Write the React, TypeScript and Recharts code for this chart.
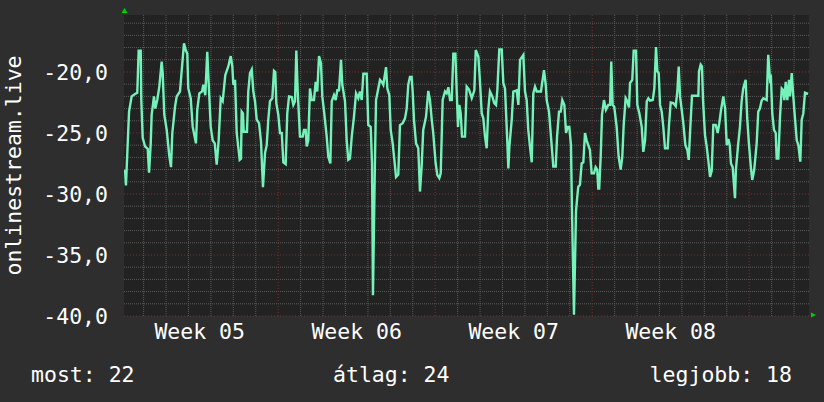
import React from 'react';
import { LineChart, Line, XAxis, YAxis, ReferenceLine, ReferenceArea, ReferenceDot } from 'recharts';

// time in hours since the left edge of the graph
const hours = [
  1.1, 2.1, 3.5, 5.4, 8.2, 11.8, 14.2, 15.7, 17.9, 18.5, 20.0, 22.5, 25.4, 26.8, 28.6, 29.6, 32.1, 33.5, 35.6, 37.8,
  40.3, 41.4, 43.1, 45.7, 48.5, 50.3, 51.7, 54.6, 56.4, 59.9, 64.2, 66.0, 67.7, 68.8, 71.4, 73.5, 77.0, 78.4, 80.6, 83.5,
  84.9, 87.0, 89.1, 90.6, 92.8, 94.9, 97.1, 99.2, 101.3, 103.5, 105.6, 108.4, 111.6, 114.2, 115.9, 117.0, 118.8, 120.6, 123.8, 125.2,
  125.9, 127.3, 128.1, 131.6, 133.0, 134.8, 136.7, 138.4, 140.2, 142.0, 144.5, 146.6, 148.7, 150.9, 152.7, 154.4, 156.2, 158.7, 160.5, 161.9,
  163.0, 165.1, 166.9, 168.8, 170.5, 173.0, 174.7, 176.6, 179.5, 181.2, 183.0, 184.4, 185.9, 188.3, 191.2, 192.6, 194.4, 195.5, 197.2, 199.0,
  200.8, 203.3, 205.1, 206.8, 208.7, 210.8, 212.2, 214.3, 216.9, 218.6, 220.8, 222.3, 224.7, 226.5, 228.3, 230.1, 232.2, 233.6, 236.5, 238.3,
  240.0, 241.8, 243.7, 246.1, 248.3, 250.7, 252.5, 254.4, 256.1, 259.7, 261.4, 264.0, 265.4, 266.4, 268.6, 269.7, 272.1, 273.9, 275.7, 277.5,
  280.4, 281.8, 283.9, 285.4, 287.5, 289.3, 291.1, 293.5, 295.3, 298.2, 300.7, 302.5, 304.2, 306.0, 307.8, 308.9, 310.3, 312.5, 314.9, 316.7,
  318.5, 320.2, 323.2, 325.6, 327.4, 329.3, 330.9, 333.5, 335.3, 337.4, 338.9, 341.0, 343.5, 345.3, 347.1, 348.9, 350.7, 352.4, 354.6, 356.1,
  357.4, 358.8, 360.3, 361.7, 364.9, 366.7, 369.2, 372.1, 374.9, 376.4, 379.2, 381.0, 382.8, 384.5, 386.3, 388.1, 389.8, 391.6, 394.1, 396.2,
  398.1, 399.5, 401.6, 404.2, 405.9, 407.7, 409.5, 411.3, 412.4, 414.9, 416.6, 420.2, 422.0, 423.8, 427.3, 429.1, 430.9, 432.6, 434.4, 436.3,
  438.0, 439.8, 441.6, 446.2, 449.4, 451.3, 452.3, 454.8, 456.9, 459.4, 462.0, 463.4, 465.5, 467.3, 469.0, 471.2, 473.0, 474.8, 476.5, 478.3,
  479.4, 481.5, 483.7, 484.7, 486.1, 487.9, 489.7, 491.5, 493.3, 495.1, 496.8, 498.6, 500.4, 502.9, 504.7, 506.4, 507.5, 508.5, 510.1, 511.5,
  513.6, 515.7, 518.2, 520.1, 521.4, 522.9, 524.6, 527.2, 529.3, 531.5, 533.2, 534.7, 536.8, 538.6, 540.4, 541.5, 543.9, 545.4, 547.9, 549.3,
  551.5, 554.0, 555.7, 557.6, 559.4, 561.1, 562.9, 565.8, 567.5, 569.3, 570.7, 572.2, 573.6, 575.4, 577.1, 578.9, 581.8, 583.2, 585.0, 587.8,
  590.4, 592.1, 593.6, 595.0, 596.8, 598.5, 600.7, 602.8, 604.3, 605.7, 607.8, 614.6, 615.3, 617.1, 618.5, 619.6, 621.7, 623.5, 625.2, 627.1,
  628.9, 630.6, 633.2, 635.3, 637.0, 638.9, 641.3, 643.2, 645.0, 646.7, 648.2, 649.5, 651.3, 653.8, 654.8, 657.3, 659.1, 660.9, 662.6, 665.2,
  666.9, 668.7, 670.9, 672.3, 674.4, 677.0, 678.7, 680.5, 682.3, 684.1, 687.7, 689.4, 691.3, 692.3, 693.7, 695.5, 697.4, 698.4, 700.2, 702.0,
  703.8, 705.5, 706.6, 708.1, 709.8, 711.6, 712.7, 714.5, 716.2, 718.0, 719.9, 721.6, 723.7, 725.2, 726.9, 728.7, 732.0,
];

const values = [
  -28.0, -29.3, -26.7, -23.25, -22.0, -21.8, -21.7, -18.25, -18.25, -22.3, -25.4, -26.1, -26.3, -28.25, -25.85, -23.5, -22.0, -23.0, -22.3, -21.2,
  -19.15, -20.1, -23.5, -24.75, -26.9, -27.8, -25.0, -22.85, -22.0, -21.6, -17.65, -18.2, -18.5, -21.35, -22.15, -24.5, -25.85, -23.1, -21.75, -21.6,
  -21.05, -21.9, -18.35, -20.9, -24.5, -25.6, -25.85, -27.6, -25.6, -22.15, -22.4, -20.25, -19.55, -18.7, -19.55, -21.05, -20.65, -25.0, -27.2, -27.1,
  -23.25, -23.4, -24.9, -24.9, -21.6, -20.1, -19.8, -21.6, -22.4, -23.9, -24.2, -25.7, -29.45, -26.65, -26.0, -23.9, -22.4, -22.15, -19.9, -20.0,
  -22.55, -23.5, -25.0, -25.0, -27.4, -27.55, -23.4, -22.0, -22.05, -22.7, -22.4, -18.25, -21.6, -25.3, -25.3, -24.75, -24.75, -26.1, -25.6, -21.35,
  -22.3, -22.3, -20.8, -21.6, -18.7, -19.3, -22.0, -23.4, -25.3, -26.95, -27.5, -22.4, -21.9, -22.3, -21.5, -21.5, -19.0, -21.05, -22.4, -25.6,
  -27.2, -27.1, -25.3, -23.65, -21.75, -22.15, -21.6, -22.3, -20.15, -20.15, -24.35, -24.5, -27.5, -38.3, -26.95, -22.3, -21.35, -20.65, -20.8, -21.05,
  -19.6, -21.35, -21.9, -24.75, -25.85, -27.2, -28.6, -28.4, -24.35, -24.2, -23.8, -23.0, -21.05, -20.4, -20.4, -21.6, -23.9, -25.85, -26.25, -29.8,
  -27.75, -24.75, -23.65, -21.55, -22.3, -23.9, -25.0, -27.5, -28.45, -28.7, -28.3, -22.3, -21.6, -21.75, -21.25, -22.3, -22.3, -18.5, -18.5, -21.75,
  -24.5, -22.7, -23.4, -25.3, -25.3, -21.2, -21.45, -22.15, -21.5, -18.2, -18.75, -20.9, -23.4, -23.8, -25.3, -26.25, -23.1, -21.6, -22.0, -22.55,
  -22.7, -21.5, -18.15, -18.15, -20.9, -21.35, -24.5, -27.9, -26.1, -23.9, -21.6, -21.5, -22.7, -19.0, -18.6, -21.6, -22.3, -24.75, -26.1, -27.4,
  -21.75, -21.2, -21.6, -21.6, -19.85, -21.05, -22.3, -23.25, -25.3, -27.75, -27.75, -25.3, -23.25, -23.25, -22.3, -22.7, -25.0, -24.5, -24.5, -26.0,
  -31.4, -39.9, -31.4, -30.5, -29.4, -29.25, -27.5, -27.4, -25.0, -25.6, -26.0, -26.4, -28.3, -28.3, -27.8, -28.0, -29.55, -29.55, -26.95, -23.5,
  -22.3, -23.1, -22.7, -22.7, -19.15, -22.7, -22.85, -24.5, -26.95, -28.0, -26.95, -24.35, -22.15, -22.4, -22.9, -20.9, -20.65, -18.25, -18.25, -22.7,
  -23.4, -24.5, -26.55, -25.6, -22.4, -22.15, -22.35, -22.3, -21.35, -17.95, -19.95, -20.1, -22.7, -23.25, -24.5, -26.25, -26.25, -24.35, -22.5, -22.55,
  -22.8, -21.6, -19.55, -22.0, -23.1, -24.2, -26.0, -26.4, -27.2, -25.0, -21.95, -21.95, -19.95, -19.4, -19.55, -22.3, -25.15, -26.1, -27.2, -28.6,
  -28.1, -24.35, -24.35, -25.0, -24.2, -23.1, -22.0, -23.0, -26.0, -25.5, -26.0, -27.5, -27.8, -30.35, -28.0, -25.85, -24.5, -22.4, -21.35, -20.65,
  -23.8, -25.85, -27.9, -28.85, -28.0, -25.85, -23.25, -23.0, -22.35, -22.15, -22.3, -18.6, -20.65, -20.5, -23.4, -24.75, -25.0, -27.1, -27.1, -23.65,
  -21.35, -21.5, -22.3, -20.8, -22.3, -20.65, -22.0, -20.1, -22.0, -23.8, -25.6, -26.0, -27.35, -23.9, -23.4, -21.7, -21.8,
];

const weekLabels = ['Week 05', 'Week 06', 'Week 07', 'Week 08'];
const weekLabelHours = [81, 249, 417, 585];
const weekStartHours = [165, 333, 501, 669];
const dayLineHours = [21, 45, 69, 93, 117, 141, 189, 213, 237, 261, 285, 309, 357, 381, 405, 429, 453, 477, 525, 549, 573, 597, 621, 645, 693, 717];
const yMajorTicks = [-40, -35, -30, -25, -20];
const yMinorLines = [-39, -38, -37, -36, -34, -33, -32, -31, -29, -28, -27, -26, -24, -23, -22, -21, -19, -18, -17, -16];

const statLabels = ['most', 'átlag', 'legjobb'];
const statValues = [22, 24, 18];

const X_MAX = 733;
const Y_MIN = -40;
const Y_MAX = -15.33;

const data = hours.map((h, i) => ({ h, v: values[i] }));

const FONT = "'DejaVu Sans Mono', monospace";
const FS = 21.5;
const TEXT = '#ffffff';
const LINE = '#74f2ba';
const MINOR = '#5a5a5a';
const MAJOR = '#7a3030';
const ARROW = '#00d000';

const UpArrow = (p: any) => (
  <polygon points={`${p.cx - 2.5},${p.cy - 2} ${p.cx + 3.5},${p.cy - 2} ${p.cx + 0.5},${p.cy - 7}`} fill={ARROW} />
);
const RightArrow = (p: any) => (
  <polygon points={`${p.cx + 2},${p.cy - 3.5} ${p.cx + 2},${p.cy + 1.5} ${p.cx + 7},${p.cy - 1}`} fill={ARROW} />
);

const YTitle = (props: any) => {
  const vb = props.viewBox || { x: 0, y: 15, width: 124, height: 301 };
  const cx = vb.x + 13;
  const cy = vb.y + vb.height / 2;
  return (
    <text x={cx} y={cy} transform={`rotate(-90 ${cx} ${cy})`} textAnchor="middle" dominantBaseline="central"
      fill={TEXT} fontFamily={FONT} fontSize={FS}>onlinestream.live</text>
  );
};

export default function App() {
  return (
    <div style={{ position: 'absolute', left: 0, top: 0, width: 824, height: 402, background: '#2e2e2e' }}>
      <LineChart width={824} height={402} data={data} margin={{ top: 15, right: 15, bottom: 0, left: 0 }}>
        <XAxis type="number" dataKey="h" domain={[0, X_MAX]} ticks={weekLabelHours} allowDataOverflow
          tickFormatter={(v: number) => weekLabels[weekLabelHours.indexOf(v)]}
          axisLine={false} tickLine={false} tickSize={0} tickMargin={8} height={86} interval={0}
          tick={{ fill: TEXT, fontFamily: FONT, fontSize: FS }} />
        <YAxis type="number" domain={[Y_MIN, Y_MAX]} ticks={yMajorTicks} allowDataOverflow width={124}
          tickFormatter={(v: number) => v.toFixed(1).replace('.', ',')}
          axisLine={false} tickLine={false} tickSize={0} tickMargin={16} interval={0}
          tick={{ fill: TEXT, fontFamily: FONT, fontSize: FS }}
          label={{ content: YTitle }} />
        <ReferenceArea x1={0} x2={X_MAX} y1={Y_MIN} y2={Y_MAX} fill="#222222" fillOpacity={1} stroke="none" />
        {yMinorLines.map((y) => (
          <ReferenceLine key={'hy' + y} y={y} stroke={MINOR} strokeDasharray="1 1" strokeWidth={1} />
        ))}
        {dayLineHours.map((x) => (
          <ReferenceLine key={'vx' + x} x={x} stroke={MINOR} strokeDasharray="1 1" strokeWidth={1} />
        ))}
        {yMajorTicks.map((y) => (
          <ReferenceLine key={'HY' + y} y={y} stroke={MAJOR} strokeDasharray="1 2" strokeWidth={1} />
        ))}
        {weekStartHours.map((x) => (
          <ReferenceLine key={'VX' + x} x={x} stroke={MAJOR} strokeDasharray="1 2" strokeWidth={1} />
        ))}
        <Line type="linear" dataKey="v" stroke={LINE} strokeWidth={2.4} dot={false} isAnimationActive={false} />
        <ReferenceDot x={0} y={Y_MAX} r={0} ifOverflow="visible" shape={UpArrow} />
        <ReferenceDot x={X_MAX} y={Y_MIN} r={0} ifOverflow="visible" shape={RightArrow} />
      </LineChart>
      <svg width={824} height={402} style={{ position: 'absolute', left: 0, top: 0, pointerEvents: 'none' }}>
        <text x={31} y={382} fill={TEXT} fontFamily={FONT} fontSize={FS}>{`${statLabels[0]}: ${statValues[0]}`}</text>
        <text x={333} y={382} fill={TEXT} fontFamily={FONT} fontSize={FS}>{`${statLabels[1]}: ${statValues[1]}`}</text>
        <text x={792} y={382} fill={TEXT} fontFamily={FONT} fontSize={FS} textAnchor="end">{`${statLabels[2]}: ${statValues[2]}`}</text>
      </svg>
    </div>
  );
}
